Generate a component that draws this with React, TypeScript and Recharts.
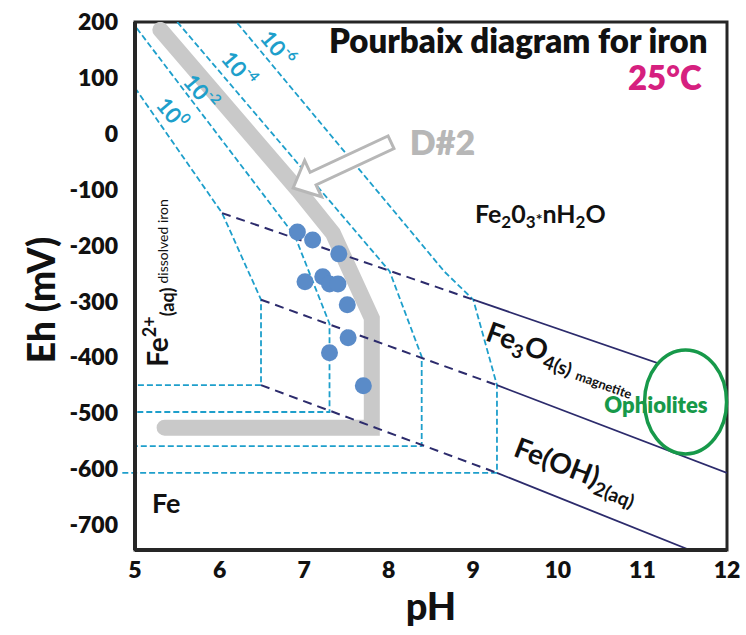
import React from "react"
import {
  ComposedChart,
  Line,
  Scatter,
  XAxis,
  YAxis,
  ReferenceDot,
  ReferenceArea,
  ReferenceLine,
  Label,
} from "recharts"

// axis ticks
const phTicks = [5, 6, 7, 8, 9, 10, 11, 12]
const ehTicks = [200, 100, 0, -100, -200, -300, -400, -500, -600, -700]

// Fe2+ activity boundaries (x = pH, y = Eh mV)
const conc0 = [
  { x: 5.0, y: 82 },
  { x: 6.03, y: -142 },
  { x: 6.49, y: -297 },
  { x: 6.49, y: -450 },
  { x: 5.0, y: -450 },
]
const conc2 = [
  { x: 5.02, y: 189 },
  { x: 6.89, y: -183 },
  { x: 7.3, y: -340 },
  { x: 7.3, y: -498 },
  { x: 5.0, y: -498 },
]
const conc4 = [
  { x: 5.5, y: 200 },
  { x: 8.01, y: -246 },
  { x: 8.39, y: -399 },
  { x: 8.39, y: -559 },
  { x: 5.0, y: -559 },
]
const conc6 = [
  { x: 6.21, y: 198 },
  { x: 8.66, y: -247 },
  { x: 9.0, y: -297 },
  { x: 9.28, y: -450 },
  { x: 9.28, y: -607 },
  { x: 5.0, y: -607 },
]

// solid phase boundaries
const oxideDashed = [{ x: 6.03, y: -142 }, { x: 9.0, y: -297 }]
const oxideSolid = [{ x: 9.0, y: -297 }, { x: 12, y: -453 }]
const magnetiteDashed = [{ x: 6.49, y: -297 }, { x: 9.28, y: -450 }]
const magnetiteSolid = [{ x: 9.28, y: -450 }, { x: 12, y: -607 }]
const hydroxideDashed = [{ x: 6.49, y: -450 }, { x: 9.28, y: -607 }]
const hydroxideSolid = [{ x: 9.28, y: -607 }, { x: 11.56, y: -745 }]

// D#2 trend
const d2Path = [
  { x: 5.3, y: 186 },
  { x: 6.93, y: -101 },
  { x: 7.34, y: -178 },
  { x: 7.8, y: -330 },
  { x: 7.8, y: -526 },
  { x: 5.35, y: -526 },
]

// samples
const samplePH = [6.92, 7.1, 7.41, 7.01, 7.22, 7.3, 7.4, 7.51, 7.52, 7.3, 7.7]
const sampleEh = [-176, -190, -215, -265, -256, -269, -269, -306, -365, -392, -451]
const samples = samplePH.map((x, i) => ({ x, y: sampleEh[i] }))

const CYAN = "#1e9fcb"
const NAVY = "#2c2b6c"
const FONT = "Lato, 'Open Sans', sans-serif"

const at = (draw: (cx: number, cy: number) => React.ReactNode) => (p: any) => <g>{draw(p.cx, p.cy)}</g>

const EhTitle = (props: any) => {
  const { x, y, height } = props.viewBox
  const cx = x + 40
  const cy = y + height / 2 + 14
  return (
    <text x={cx} y={cy} transform={`rotate(-90 ${cx} ${cy})`} textAnchor="middle" dominantBaseline="central"
      fontFamily={FONT} fontWeight={900} fontSize={37} fill="#111">
      Eh (mV)
    </text>
  )
}

const PhTitle = (props: any) => {
  const { x, y, width } = props.viewBox
  return (
    <text x={x + width / 2} y={y + 70} textAnchor="middle" fontFamily={FONT} fontWeight={900} fontSize={38} fill="#111">
      pH
    </text>
  )
}

const concLabel = (exp: string) =>
  at((cx, cy) => (
    <text x={cx} y={cy} transform={`rotate(50 ${cx} ${cy})`} textAnchor="middle" dominantBaseline="central"
      fontFamily={FONT} fontWeight={700} fontSize={22} fill={CYAN}>
      10<tspan fontSize={14} dy={-8}>{exp}</tspan>
    </text>
  ))

const arrowShape = (p: any) => {
  const pts = [[0, 0], [-22, -20], [-22, -7], [-108, -7], [-108, 7], [-22, 7], [-22, 20]]
    .map(([a, b]) => `${a},${b}`)
    .join(" ")
  return (
    <polygon points={pts} transform={`translate(${p.cx},${p.cy}) rotate(155)`} fill="#fff" stroke="#b7b7b7"
      strokeWidth={3} />
  )
}

const dashedCyan = { stroke: CYAN, strokeWidth: 1.8, strokeDasharray: "6 3" }

export default function App() {
  return (
    <div style={{ position: "absolute", left: 0, top: 0, width: 746, height: 635, background: "#fff" }}>
      <ComposedChart width={746} height={635} margin={{ top: 22, right: 19, bottom: 0, left: 0 }}>
        <XAxis type="number" dataKey="x" domain={[5, 12]} ticks={phTicks} allowDataOverflow height={85}
          tickLine={false} tickSize={0} tickMargin={12} axisLine={{ stroke: "#262626", strokeWidth: 4 }}
          tick={{ fill: "#111", fontSize: 23, fontWeight: 800, fontFamily: FONT }}>
          <Label content={PhTitle} />
        </XAxis>
        <YAxis type="number" dataKey="y" domain={[-745, 200]} ticks={ehTicks} allowDataOverflow width={135}
          tickLine={false} tickSize={0} tickMargin={17} axisLine={{ stroke: "#262626", strokeWidth: 4 }}
          tick={{ fill: "#111", fontSize: 23, fontWeight: 800, fontFamily: FONT }}>
          <Label content={EhTitle} />
        </YAxis>

        <Line data={d2Path} dataKey="y" stroke="#c9c9c9" strokeWidth={16} strokeLinecap="round"
          strokeLinejoin="miter" dot={false} isAnimationActive={false} />

        <Line data={conc0} dataKey="y" {...dashedCyan} dot={false} isAnimationActive={false} />
        <Line data={conc2} dataKey="y" {...dashedCyan} dot={false} isAnimationActive={false} />
        <Line data={conc4} dataKey="y" {...dashedCyan} dot={false} isAnimationActive={false} />
        <Line data={conc6} dataKey="y" {...dashedCyan} dot={false} isAnimationActive={false} />
        <ReferenceLine segment={[{ x: 4.85, y: -607 }, { x: 5, y: -607 }]} {...dashedCyan} ifOverflow="visible" />

        <Line data={oxideDashed} dataKey="y" stroke={NAVY} strokeWidth={2} strokeDasharray="9 6" dot={false} isAnimationActive={false} />
        <Line data={oxideSolid} dataKey="y" stroke={NAVY} strokeWidth={1.8} dot={false} isAnimationActive={false} />
        <Line data={magnetiteDashed} dataKey="y" stroke={NAVY} strokeWidth={2} strokeDasharray="9 6" dot={false} isAnimationActive={false} />
        <Line data={magnetiteSolid} dataKey="y" stroke={NAVY} strokeWidth={1.8} dot={false} isAnimationActive={false} />
        <Line data={hydroxideDashed} dataKey="y" stroke={NAVY} strokeWidth={2} strokeDasharray="9 6" dot={false} isAnimationActive={false} />
        <Line data={hydroxideSolid} dataKey="y" stroke={NAVY} strokeWidth={1.8} dot={false} isAnimationActive={false} />

        <Scatter data={samples} dataKey="y" isAnimationActive={false}
          shape={(p: any) => <circle cx={p.cx} cy={p.cy} r={8.5} fill="#5a8bc8" />} />

        <ReferenceArea x1={5} x2={12} y1={-745} y2={200} fill="none" stroke="#262626" strokeWidth={3} ifOverflow="visible" />

        {/* annotations */}
        <ReferenceDot x={6.87} y={-97} r={0} ifOverflow="visible" shape={arrowShape} />
        <ReferenceDot x={8.25} y={-38} r={0} ifOverflow="visible"
          shape={at((cx, cy) => (
            <text x={cx} y={cy} fontFamily={FONT} fontWeight={800} fontSize={34} fill="#b7b7b7">D#2</text>
          ))} />

        <ReferenceDot x={11.51} y={-480} r={0} ifOverflow="visible"
          shape={at((cx, cy) => <ellipse cx={cx} cy={cy} rx={41} ry={52} fill="#fff" stroke="#17994a" strokeWidth={3.5} />)} />
        <ReferenceDot x={11.16} y={-500} r={0} ifOverflow="visible"
          shape={at((cx, cy) => (
            <text x={cx} y={cy} textAnchor="middle" fontFamily={FONT} fontWeight={800} fontSize={22} fill="#17994a">Ophiolites</text>
          ))} />

        <ReferenceDot x={11.77} y={145} r={0} ifOverflow="visible"
          shape={at((cx, cy) => (
            <text x={cx} y={cy} textAnchor="end" fontFamily={FONT} fontWeight={800} fontSize={33} fill="#111">Pourbaix diagram for iron</text>
          ))} />
        <ReferenceDot x={11.7} y={78} r={0} ifOverflow="visible"
          shape={at((cx, cy) => (
            <text x={cx} y={cy} textAnchor="end" fontFamily={FONT} fontWeight={800} fontSize={33} fill="#d6207f">25°C</text>
          ))} />

        <ReferenceDot x={9.02} y={-160} r={0} ifOverflow="visible"
          shape={at((cx, cy) => (
            <text x={cx} y={cy} fontFamily={FONT} fontWeight={700} fontSize={25} fill="#111">
              Fe<tspan fontSize={17} dy={5}>2</tspan><tspan dy={-5}>0</tspan><tspan fontSize={17} dy={5}>3</tspan>
              <tspan fontSize={16} dy={-3}>*</tspan><tspan dy={-2}>nH</tspan><tspan fontSize={17} dy={5}>2</tspan>
              <tspan dy={-5}>O</tspan>
            </text>
          ))} />

        <ReferenceDot x={9.13} y={-369} r={0} ifOverflow="visible"
          shape={at((cx, cy) => (
            <text x={cx} y={cy} transform={`rotate(20 ${cx} ${cy})`} fontFamily={FONT} fontWeight={700} fontSize={28} fill="#111">
              Fe<tspan fontSize={19} dy={6}>3</tspan><tspan dy={-6}>O</tspan><tspan fontSize={19} dy={6}>4(s)</tspan>
              <tspan fontSize={13} dx={6}>magnetite</tspan>
            </text>
          ))} />

        <ReferenceDot x={9.46} y={-576} r={0} ifOverflow="visible"
          shape={at((cx, cy) => (
            <text x={cx} y={cy} transform={`rotate(21 ${cx} ${cy})`} fontFamily={FONT} fontWeight={700} fontSize={28} fill="#111">
              Fe(OH)<tspan fontSize={19} dy={7}>2(aq)</tspan>
            </text>
          ))} />

        <ReferenceDot x={5.39} y={-417} r={0} ifOverflow="visible"
          shape={at((cx, cy) => (
            <text x={cx} y={cy} transform={`rotate(-90 ${cx} ${cy})`} fontFamily={FONT} fontWeight={700} fontSize={28} fill="#111">
              Fe<tspan fontSize={18} dy={-12}>2+</tspan><tspan fontSize={18} dy={18}>(aq)</tspan>
              <tspan fontSize={14} fontWeight={400} dy={-6} dx={4}>dissolved iron</tspan>
            </text>
          ))} />

        <ReferenceDot x={5.2} y={-678} r={0} ifOverflow="visible"
          shape={at((cx, cy) => (
            <text x={cx} y={cy} fontFamily={FONT} fontWeight={700} fontSize={27} fill="#111">Fe</text>
          ))} />

        <ReferenceDot x={5.44} y={37} r={0} ifOverflow="visible" shape={concLabel("0")} />
        <ReferenceDot x={5.78} y={75} r={0} ifOverflow="visible" shape={concLabel("-2")} />
        <ReferenceDot x={6.23} y={116} r={0} ifOverflow="visible" shape={concLabel("-4")} />
        <ReferenceDot x={6.69} y={153} r={0} ifOverflow="visible" shape={concLabel("-6")} />
      </ComposedChart>
    </div>
  )
}
